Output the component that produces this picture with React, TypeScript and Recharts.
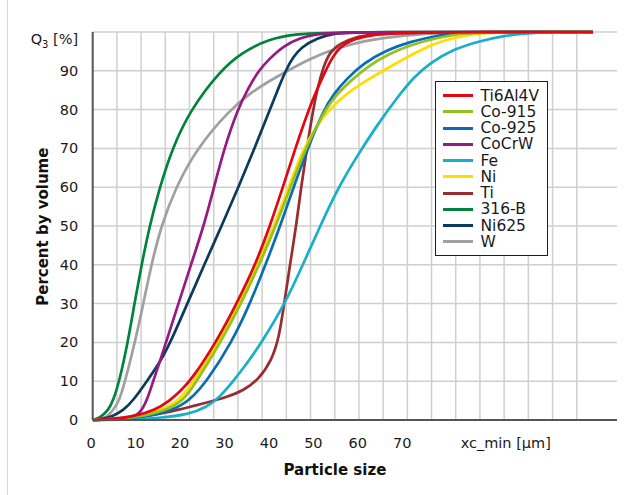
import React from 'react';
import { LineChart, Line, XAxis, YAxis, CartesianGrid, Legend, Label, ReferenceLine } from 'recharts';

type Pt = [number, number];

const FONT = '"DejaVu Sans", Verdana, sans-serif';

// Axis ticks / labels
const X_TICKS = [0, 10, 20, 30, 40, 50, 60, 70];
const X_UNIT_POS = 93.3;
const X_UNIT_LABEL = 'xc_min [µm]';
const Y_TICKS = [0, 10, 20, 30, 40, 50, 60, 70, 80, 90, 100];
const Y_UNIT_MAIN = 'Q';
const Y_UNIT_SUB = '3';
const Y_UNIT_REST = ' [%]';
const X_TITLE = 'Particle size';
const Y_TITLE = 'Percent by volume';
const X_MAX = 118;
const GRID_STEP = 5.447;
const GRID_COUNT = 20;

// Series data: [particle size, Q3 %]
const TI6AL4V: Pt[] = [[0,0],[5,0.3],[9.1,0.9],[14,2.5],[17.4,5],[19.7,7.4],[22.3,10.5],[27.75,20],[32.4,30],[36.6,40],[39.9,50],[42.8,60],[45.6,70],[48.6,80],[50.6,85.5],[52.4,90],[54,93.6],[55.6,96],[58,97.9],[62.4,99.2],[70,100],[112.6,100]];
const CO_915: Pt[] = [[0,0],[5,0.25],[11,0.9],[16.5,2.5],[20.5,5],[23.4,10],[28.8,20],[33.4,30],[37.5,40],[41.2,50],[44.5,60],[47.9,70],[51.8,79],[54.9,84],[58.6,88],[62.4,91.5],[66.2,94.1],[71.4,96.6],[77.4,98.5],[83.4,99.7],[88,100],[112.6,100]];
const CO_925: Pt[] = [[0,0],[5,0.2],[12,0.8],[18,2.5],[21.8,5],[25.7,10],[31.3,20],[35.4,30],[38.9,40],[42.2,50],[45.2,60],[48.4,70],[51.8,79.5],[54.2,84],[57.2,88],[60.9,91.9],[66.2,95.4],[71.4,97.5],[77.4,99],[82,100],[112.6,100]];
const COCRW: Pt[] = [[0,0],[5,0.2],[8,0.6],[10,1.3],[11,2.5],[12.2,5],[13.6,10],[15.1,15],[16.5,20],[19.3,30],[22.1,40],[25,50],[27.3,60],[29.6,70],[32.6,80],[35,85.5],[37.3,90],[39.7,93],[42.9,96.4],[46.7,98.5],[50.4,99.4],[55,100],[112.6,100]];
const FE: Pt[] = [[0,0],[8,0.1],[15,0.5],[21.5,1.4],[25.7,3.3],[28.5,5.8],[31.65,10],[35,15],[38,20],[43.3,30],[47.3,40],[51.2,50],[55.3,60],[59.5,68],[64,76],[68.6,83.2],[72.2,88.3],[75.9,92],[81.2,95.6],[87.2,97.7],[92.4,99],[97,99.6],[103,100],[112.6,100]];
const NI: Pt[] = [[0,0],[5,0.25],[10,0.9],[15.5,2.5],[19.5,5],[22.8,10],[28.3,20],[33,30],[37.1,40],[40.8,50],[44.1,60],[47.4,70],[50.5,76],[53.4,80.3],[57,84],[61.5,87.5],[68.4,92],[73.7,95.4],[78.9,97.9],[84.9,99.4],[91,100],[112.6,100]];
const TI: Pt[] = [[0,0],[6,0.3],[12.2,0.9],[19.7,2.7],[25,4.3],[30,5.8],[34,7.6],[37.4,10.5],[40.3,15.5],[41.9,21],[43.1,30],[44.4,40],[45.8,50],[46.9,60],[48.2,70],[49.6,80],[50.7,86],[51.9,91],[53.4,94.9],[55.7,97.1],[59.4,98.8],[64.7,100],[112.6,100]];
const B316: Pt[] = [[0,0],[1,0.3],[2,1],[3.5,2.5],[4.6,5],[6,10],[7.9,20],[9.4,30],[11,40],[12.8,50],[15.1,60],[17.9,70],[22,80],[28.7,90],[33.3,94.5],[39.5,98.2],[46,99.5],[54,100],[112.6,100]];
const NI625: Pt[] = [[0,0],[2,0.2],[4.6,1],[6.9,2.5],[9.1,5],[12.2,10],[15.2,15],[17.5,20],[21.3,30],[25.1,40],[29,50],[32.8,60],[36.4,70],[39.9,80],[41.6,85],[43.6,90.5],[45.1,93.5],[46.9,96],[50.4,98.5],[54.9,99.7],[58,100],[112.6,100]];
const W: Pt[] = [[0,0],[2,0.3],[3.2,0.8],[4.6,2.5],[6,5],[7.3,10],[9.5,20],[11.4,30],[13.2,40],[15.4,50],[18.7,60],[23.4,70],[30.9,80],[35.4,84.2],[39.9,87.5],[43.9,90],[48.7,93],[54,95.5],[61,97.8],[70,99.2],[80,99.9],[90,100],[112.6,100]];

const SERIES_NAMES = ['Ti6Al4V', 'Co-915', 'Co-925', 'CoCrW', 'Fe', 'Ni', 'Ti', '316-B', 'Ni625', 'W'];
const SERIES_COLORS = ['#e30613', '#95c11f', '#0a6db4', '#951b81', '#18afc8', '#ffdd00', '#9a2b2e', '#00843d', '#0b3a5f', '#a0a0a0'];
const SERIES_DATA = [TI6AL4V, CO_915, CO_925, COCRW, FE, NI, TI, B316, NI625, W];

const SERIES = SERIES_NAMES.map((name, i) => ({
  name,
  color: SERIES_COLORS[i],
  data: SERIES_DATA[i].map(([x, y]) => ({ x, y })),
}));

const GRID_X = Array.from({ length: GRID_COUNT }, (_, i) => (i + 1) * GRID_STEP);

const XTick = (props: any) => {
  const { x, y, payload } = props;
  const v = payload.value;
  const label = v === X_UNIT_POS ? X_UNIT_LABEL : String(v);
  return (
    <text x={x - 1.5} y={y + 27.5} textAnchor="middle" fontFamily={FONT} fontSize={14.5} fill="#1a1a1a">
      {label}
    </text>
  );
};

const YTick = (props: any) => {
  const { x, y, payload } = props;
  if (payload.value === 100) {
    return (
      <text x={x} y={y + 12} textAnchor="end" fontFamily={FONT} fontSize={14.5} fill="#1a1a1a">
        <tspan>{Y_UNIT_MAIN}</tspan>
        <tspan fontSize={10} dy={4}>{Y_UNIT_SUB}</tspan>
        <tspan dy={-4}>{Y_UNIT_REST}</tspan>
      </text>
    );
  }
  return (
    <text x={x} y={y + 5} textAnchor="end" fontFamily={FONT} fontSize={14.5} fill="#1a1a1a">
      {payload.value}
    </text>
  );
};

const XTitle = (props: any) => {
  const vb = props.viewBox || { x: 0, y: 0, width: 0, height: 0 };
  return (
    <text x={vb.x + vb.width * 0.462} y={vb.y + 55} textAnchor="middle" fontFamily={FONT} fontSize={15} fontWeight="bold" fill="#111">
      {X_TITLE}
    </text>
  );
};

const YTitle = (props: any) => {
  const vb = props.viewBox || { x: 0, y: 0, width: 0, height: 0 };
  const cx = vb.x + 35;
  const cy = vb.y + vb.height / 2 + 0.7;
  return (
    <text x={cx} y={cy} textAnchor="middle" fontFamily={FONT} fontSize={15} fontWeight="bold" fill="#111" transform={`rotate(-90, ${cx}, ${cy})`}>
      {Y_TITLE}
    </text>
  );
};

const LegendBox = () => (
  <div
    style={{
      boxSizing: 'border-box',
      width: 113,
      height: 175,
      border: '1.5px solid #1e1e1e',
      background: '#fff',
      padding: '5.5px 0 0 6.5px',
      fontFamily: FONT,
      fontSize: 15,
      color: '#1a1a1a',
    }}
  >
    {SERIES.map((s) => (
      <div key={s.name} style={{ display: 'flex', alignItems: 'center', height: 16.26, whiteSpace: 'nowrap', overflow: 'visible' }}>
        <span style={{ display: 'inline-block', width: 30, height: 3, background: s.color, marginRight: 8 }} />
        <span style={{ display: 'inline-block', fontSize: 15.5, lineHeight: '16px', height: 16 }}>{s.name}</span>
      </div>
    ))}
  </div>
);

export default function App() {
  const drawOrder = [...SERIES].reverse();
  return (
    <div style={{ position: 'absolute', left: 0, top: 0, width: 625, height: 495, background: '#fff' }}>
      <div style={{ position: 'absolute', left: 6.5, top: 0, width: 1.5, height: 495, background: '#d6d6d6' }} />
      <LineChart width={625} height={495} margin={{ top: 32, right: 8, bottom: 35, left: 12.7 }}>
        <CartesianGrid stroke="#cfcfcf" strokeWidth={1.5} vertical={false} />
        {GRID_X.map((v) => (
          <ReferenceLine key={`g${v}`} x={v} stroke="#cfcfcf" strokeWidth={1.5} ifOverflow="extendDomain" />
        ))}
        <XAxis
          dataKey="x"
          type="number"
          domain={[0, X_MAX]}
          allowDataOverflow
          ticks={[...X_TICKS, X_UNIT_POS]}
          interval={0}
          tick={<XTick />}
          tickLine={false}
          tickSize={0}
          tickMargin={0}
          axisLine={{ stroke: '#555', strokeWidth: 2 }}
          height={40}
        >
          <Label content={<XTitle />} />
        </XAxis>
        <YAxis
          type="number"
          domain={[0, 100]}
          ticks={Y_TICKS}
          interval={0}
          tick={<YTick />}
          tickLine={false}
          tickSize={0}
          tickMargin={14.5}
          axisLine={{ stroke: '#555', strokeWidth: 2 }}
          width={80}
        >
          <Label content={<YTitle />} />
        </YAxis>
        <Legend
          layout="vertical"
          align="center"
          verticalAlign="middle"
          content={<LegendBox />}
          wrapperStyle={{ left: 435, top: 81, width: 113, height: 175 }}
        />
        {drawOrder.map((s) => (
          <Line
            key={s.name}
            name={s.name}
            data={s.data}
            dataKey="y"
            type="basis"
            stroke={s.color}
            strokeWidth={2.7}
            dot={false}
            activeDot={false}
            isAnimationActive={false}
            legendType="plainline"
          />
        ))}
      </LineChart>
    </div>
  );
}
